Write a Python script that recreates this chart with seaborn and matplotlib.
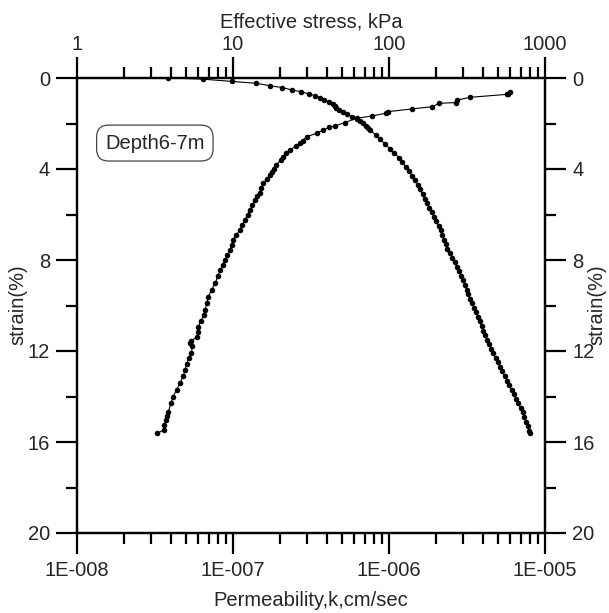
import numpy as np
import pandas as pd
import matplotlib
matplotlib.use("Agg")
import matplotlib.pyplot as plt
from matplotlib.ticker import LogLocator, FixedLocator, MultipleLocator, FuncFormatter, NullFormatter
import seaborn as sns

# ---- data ----
stress_strain = [0.00, 0.05, 0.15, 0.23, 0.34, 0.42, 0.53, 0.60, 0.70, 0.78, 0.86, 0.95, 1.05,
                 1.15, 1.25, 1.33, 1.40, 1.50, 1.60, 1.70, 1.80, 1.90, 2.00, 2.10, 2.20, 2.30,
                 2.50, 2.70, 2.90, 3.10, 3.30, 3.50, 3.70, 3.90, 4.10, 4.30, 4.50, 4.70, 4.90,
                 5.10, 5.30, 5.50, 5.70, 5.90, 6.10, 6.30, 6.50, 6.70, 6.90, 7.10, 7.30, 7.50,
                 7.70, 7.90, 8.10, 8.30, 8.50, 8.70, 8.90, 9.10, 9.30, 9.50, 9.70, 9.90, 10.10,
                 10.30, 10.50, 10.70, 10.90, 11.10, 11.30, 11.50, 11.70, 11.90, 12.10, 12.30,
                 12.50, 12.70, 12.90, 13.10, 13.30, 13.50, 13.70, 13.90, 14.10, 14.30, 14.50,
                 14.70, 14.90, 15.10, 15.30, 15.50, 15.62]
stress_kpa = [3.85, 6.4, 9.8, 14.0, 17.3, 20.7, 24.0, 27.2, 30.7, 33.5, 36.0, 38.5, 41.0,
              43.5, 45.0, 46.0, 48.0, 51.0, 54.0, 58.0, 62.0, 65.0, 68.0, 71.0, 73.0, 76.0,
              82.0, 88.0, 94.0, 101.0, 108.0, 116.0, 122.0, 128.0, 134.0, 141.0, 147.0, 153.0, 158.0,
              164.0, 169.0, 175.0, 181.0, 188.0, 194.0, 201.0, 208.0, 214.0, 220.0, 225.0, 231.0, 237.0,
              245.0, 254.0, 263.0, 272.0, 281.0, 290.0, 298.0, 306.0, 314.0, 323.0, 332.0, 341.0, 351.0,
              361.0, 371.0, 381.0, 392.0, 403.0, 415.0, 427.0, 440.0, 453.0, 466.0, 482.0,
              498.0, 515.0, 533.0, 552.0, 571.0, 590.0, 610.0, 631.0, 652.0, 675.0, 697.0,
              718.0, 735.0, 755.0, 775.0, 792.0, 801.0]

perm_strain = [0.63, 0.70, 0.72, 0.85, 0.97, 1.08, 1.11, 1.26, 1.36, 1.48, 1.55, 1.67, 1.77,
               1.96, 2.11, 2.17, 2.29, 2.43, 2.58, 2.75, 2.87, 3.00, 3.16, 3.30, 3.46, 3.60,
               3.82, 4.00, 4.15, 4.26, 4.45, 4.63, 4.85, 5.07, 5.20, 5.36, 5.60, 5.80, 6.00,
               6.24, 6.45, 6.68, 6.90, 7.12, 7.35, 7.56, 7.80, 8.00, 8.20, 8.44, 8.70, 9.02,
               9.30, 9.61, 9.90, 10.20, 10.42, 10.70, 10.93, 11.15, 11.37, 11.55, 11.66, 11.80,
               12.10, 12.30, 12.55, 12.84, 13.10, 13.42, 13.70, 14.00, 14.30, 14.67, 14.85,
               15.03, 15.25, 15.47, 15.62]
perm_k_e8 = [597, 580, 568, 330, 274, 270, 210, 190, 140, 99, 95, 78, 62,
             52, 45, 41, 38, 34.3, 29.7, 28.0, 26.9, 25.3, 23.2, 22.0, 21.0, 20.2,
             19.0, 18.2, 17.7, 17.3, 16.4, 15.6, 15.2, 14.9, 14.2, 13.8, 13.3, 12.9, 12.4,
             11.9, 11.5, 11.1, 10.5, 10.0, 9.8, 9.6, 9.2, 8.9, 8.6, 8.3, 8.0, 7.7,
             7.3, 6.95, 6.8, 6.6, 6.5, 6.2, 6.0, 5.95, 5.9, 5.4, 5.3, 5.5,
             5.4, 5.2, 5.05, 4.92, 4.8, 4.57, 4.35, 4.14, 4.0, 3.85, 3.75,
             3.7, 3.62, 3.6, 3.27]
perm_k = [v * 1e-8 for v in perm_k_e8]

strain_ticks = [0, 4, 8, 12, 16, 20]
perm_tick_vals = [1e-8, 1e-7, 1e-6, 1e-5]
perm_tick_labels = ["1E-008", "1E-007", "1E-006", "1E-005"]
stress_tick_vals = [1, 10, 100, 1000]
stress_tick_labels = ["1", "10", "100", "1000"]

df_s = pd.DataFrame({"stress": stress_kpa, "strain": stress_strain})
df_p = pd.DataFrame({"k": perm_k, "strain": perm_strain})

sns.set_style("white")
plt.rcParams["font.family"] = ["Liberation Sans", "DejaVu Sans"]
FS = 14.5

fig = plt.figure(figsize=(6.09, 6.13), dpi=100)
ax = fig.add_axes([77 / 609, 1 - 533 / 613, 468 / 609, 455 / 613])
ax.set_facecolor("white")

sns.lineplot(data=df_p, x="k", y="strain", sort=False, estimator=None, ax=ax,
             color="black", linewidth=0.8, marker="o", markersize=4.0,
             markeredgewidth=0, markerfacecolor="black")
ax.set_xscale("log")
ax.set_xlim(1e-8, 1e-5)
ax.set_ylim(20, 0)

ax2 = ax.twiny()
sns.lineplot(data=df_s, x="stress", y="strain", sort=False, estimator=None, ax=ax2,
             color="black", linewidth=0.8, marker="o", markersize=4.0,
             markeredgewidth=0, markerfacecolor="black")
ax2.set_xscale("log")
ax2.set_xlim(1, 1000)
ax2.set_ylim(20, 0)

for a in (ax, ax2):
    for s in a.spines.values():
        s.set_linewidth(1.6)
        s.set_color("black")

ax.xaxis.set_major_locator(FixedLocator(perm_tick_vals))
ax.xaxis.set_major_formatter(FuncFormatter(lambda v, p: perm_tick_labels[perm_tick_vals.index(min(perm_tick_vals, key=lambda t: abs(np.log10(t) - np.log10(v))))]))
ax.xaxis.set_minor_locator(LogLocator(base=10, subs=np.arange(2, 10), numticks=20))
ax.xaxis.set_minor_formatter(NullFormatter())
ax2.xaxis.set_major_locator(FixedLocator(stress_tick_vals))
ax2.xaxis.set_major_formatter(FuncFormatter(lambda v, p: stress_tick_labels[stress_tick_vals.index(min(stress_tick_vals, key=lambda t: abs(np.log10(t) - np.log10(v))))]))
ax2.xaxis.set_minor_locator(LogLocator(base=10, subs=np.arange(2, 10), numticks=20))
ax2.xaxis.set_minor_formatter(NullFormatter())

ax.yaxis.set_major_locator(FixedLocator(strain_ticks))
ax.yaxis.set_minor_locator(MultipleLocator(2))

ax.tick_params(axis="x", which="both", bottom=True, top=False, direction="out",
               labelsize=FS, color="black")
ax2.tick_params(axis="x", which="both", top=True, bottom=False, direction="out",
                labelsize=FS, color="black")
ax.tick_params(axis="y", which="both", left=True, right=True, labelleft=True,
               labelright=True, direction="out", labelsize=FS, color="black")
ax2.tick_params(axis="y", which="both", left=False, right=False, labelleft=False, labelright=False)
for a in (ax, ax2):
    a.tick_params(which="major", length=15, width=1.6)
    a.tick_params(which="minor", length=8, width=1.6)
ax.tick_params(axis="y", which="major", pad=4.5)
ax.tick_params(axis="x", which="major", pad=5)
ax2.tick_params(axis="x", which="major", pad=2)

ax.set_xlabel("Permeability,k,cm/sec", fontsize=FS, labelpad=8)
ax2.set_xlabel("Effective stress, kPa", fontsize=FS, labelpad=6)
ax.set_ylabel("")
fig.text(18 / 609, 1 - 305 / 613, "strain(%)", fontsize=FS, rotation=90,
         ha="center", va="center")
fig.text(597 / 609, 1 - 305 / 613, "strain(%)", fontsize=FS, rotation=90,
         ha="center", va="center")

ax.text(0.06, 0.857, "Depth6-7m", transform=ax.transAxes, fontsize=FS,
        ha="left", va="center",
        bbox=dict(boxstyle="round,pad=0.42,rounding_size=0.6", fc="white", ec="#444444", lw=0.9))

fig.savefig("out.png", dpi=100, facecolor="white")
